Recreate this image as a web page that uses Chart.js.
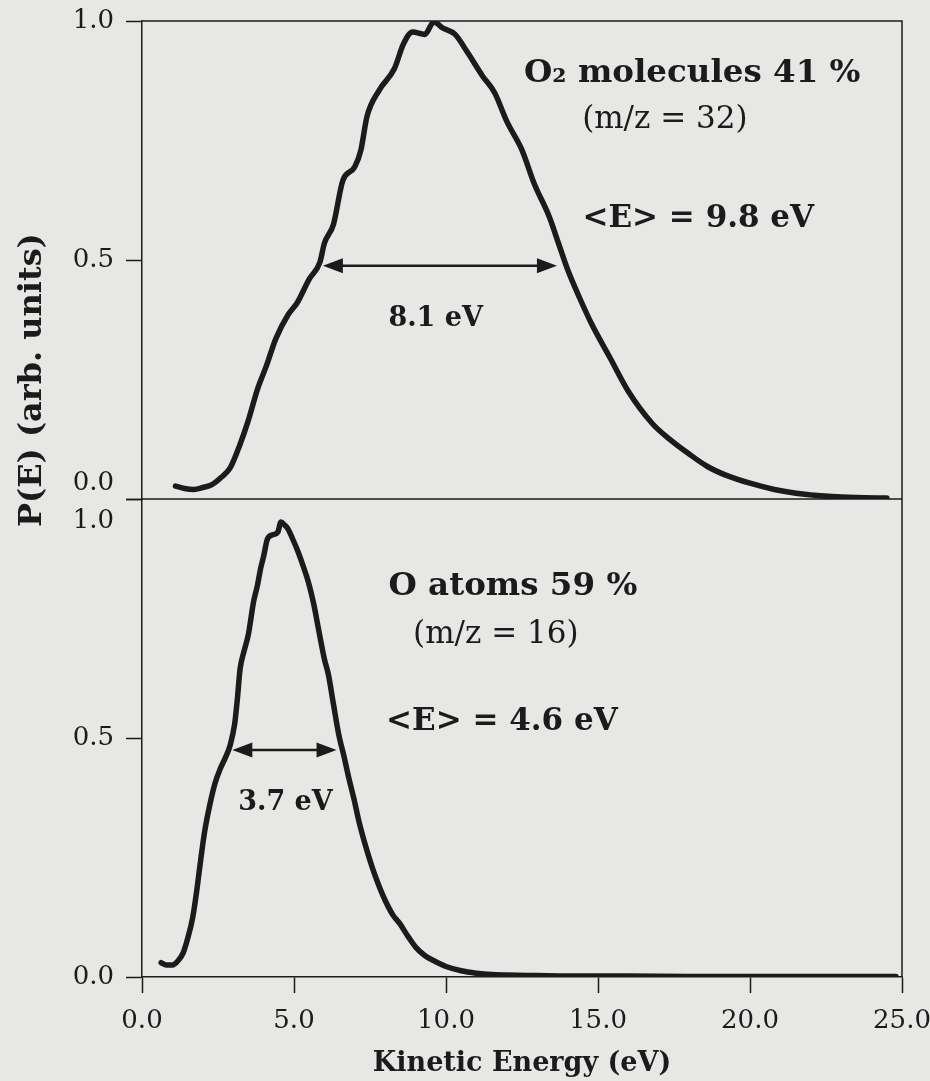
<!DOCTYPE html>
<html>
<head>
<meta charset="utf-8">
<title>P(E) kinetic energy distributions</title>
<script src="https://cdn.jsdelivr.net/npm/chart.js@4.4.1/dist/chart.umd.min.js"></script>
<style>
  html, body { margin: 0; padding: 0; background: #e7e7e5; }
  #chart { display: block; }
</style>
</head>
<body>
<canvas id="chart" width="930" height="1081"></canvas>
<script>
// upper panel: O2 molecules (m/z = 32)
const o2Energy = [1.1, 1.4, 1.7, 2.0, 2.3, 2.6, 2.9, 3.2, 3.5, 3.8, 4.1, 4.4, 4.8, 5.1, 5.5, 5.85,
    6.0, 6.3, 6.6, 7.0, 7.2, 7.4, 7.8, 8.3, 8.6, 8.9, 9.3, 9.6, 9.9, 10.3, 10.7, 11.2, 11.6,
    12.0, 12.5, 12.9, 13.4, 13.7, 14.0, 14.4, 14.8, 15.4, 16.0, 16.8, 17.3, 18.0, 18.6, 19.2,
    20.0, 20.8, 21.8, 22.7, 23.5, 24.5];
const o2Signal = [0.027, 0.022, 0.020, 0.024, 0.030, 0.045, 0.065, 0.110, 0.165, 0.230, 0.280,
    0.335, 0.385, 0.410, 0.460, 0.495, 0.535, 0.575, 0.665, 0.695, 0.730, 0.800, 0.855, 0.900,
    0.952, 0.977, 0.972, 0.998, 0.985, 0.972, 0.935, 0.885, 0.850, 0.790, 0.730, 0.660, 0.590,
    0.535, 0.480, 0.420, 0.365, 0.295, 0.225, 0.157, 0.128, 0.094, 0.068, 0.050, 0.033, 0.020,
    0.010, 0.005, 0.003, 0.002];

// lower panel: O atoms (m/z = 16)
const oEnergy = [0.63, 0.8, 1.0, 1.2, 1.35, 1.5, 1.67, 1.8, 1.9, 2.05, 2.23, 2.4, 2.57, 2.75,
    2.9, 3.05, 3.13, 3.23, 3.35, 3.5, 3.67, 3.8, 3.9, 4.0, 4.13, 4.3, 4.47, 4.57, 4.7, 4.8, 5.0,
    5.13, 5.3, 5.47, 5.65, 5.8, 6.0, 6.13, 6.3, 6.47, 6.65, 6.8, 7.0, 7.13, 7.35, 7.57, 7.8, 8.0,
    8.25, 8.47, 8.75, 9.0, 9.3, 9.57, 10.0, 10.5, 11.0, 11.5, 12.0, 13.0, 14.0, 16.0, 18.0, 20.0,
    22.0, 24.8];
const oSignal = [0.030, 0.025, 0.025, 0.035, 0.050, 0.080, 0.125, 0.180, 0.230, 0.300, 0.360,
    0.405, 0.435, 0.460, 0.485, 0.530, 0.577, 0.646, 0.680, 0.717, 0.785, 0.820, 0.854, 0.880,
    0.917, 0.925, 0.931, 0.952, 0.945, 0.9375, 0.910, 0.890, 0.860, 0.827, 0.780, 0.730, 0.665,
    0.633, 0.570, 0.508, 0.460, 0.417, 0.365, 0.327, 0.275, 0.230, 0.190, 0.160, 0.130, 0.1125,
    0.085, 0.0625, 0.045, 0.035, 0.022, 0.013, 0.008, 0.005, 0.004, 0.003, 0.002, 0.002, 0.001,
    0.001, 0.001, 0.001];

const FONT = '"DejaVu Serif", "Liberation Serif", serif';
const INK = '#1b1b1b';

// text put on the panels, in data coordinates
const notes = [
    { axis: 'yTop', x: 18.1, y: 0.89, text: 'O\u2082 molecules 41 %', bold: true, size: 32.5 },
    { axis: 'yTop', x: 17.2, y: 0.792, text: '(m/z = 32)', bold: false, size: 31 },
    { axis: 'yTop', x: 18.3, y: 0.585, text: '<E> = 9.8 eV', bold: true, size: 31 },
    { axis: 'yTop', x: 9.66, y: 0.377, text: '8.1 eV', bold: true, size: 27 },
    { axis: 'yBot', x: 12.2, y: 0.817, text: 'O atoms 59 %', bold: true, size: 32.5 },
    { axis: 'yBot', x: 11.64, y: 0.715, text: '(m/z = 16)', bold: false, size: 31 },
    { axis: 'yBot', x: 11.84, y: 0.533, text: '<E> = 4.6 eV', bold: true, size: 31 },
    { axis: 'yBot', x: 4.72, y: 0.365, text: '3.7 eV', bold: true, size: 27 },
];

// FWHM double arrows
const widthArrows = [
    { axis: 'yTop', from: 5.95, to: 13.65, y: 0.488 },
    { axis: 'yBot', from: 2.97, to: 6.4, y: 0.475 },
];

function toPoints(xs, ys) {
    return xs.map((x, i) => ({ x: x, y: ys[i] }));
}

function arrowHead(ctx, x, y, dir) {
    ctx.beginPath();
    ctx.moveTo(x, y);
    ctx.lineTo(x - dir * 20, y - 7.5);
    ctx.lineTo(x - dir * 20, y + 7.5);
    ctx.closePath();
    ctx.fill();
}

const figureExtras = {
    id: 'figureExtras',
    beforeDatasetsDraw(chart) {
        const { ctx, chartArea: a, scales } = chart;
        const mid = scales.yTop.getPixelForValue(0);
        ctx.save();
        ctx.strokeStyle = INK;
        ctx.lineWidth = 1.5;
        ctx.beginPath();
        ctx.moveTo(a.left, a.top);
        ctx.lineTo(a.right, a.top);
        ctx.lineTo(a.right, a.bottom);
        ctx.moveTo(a.left, mid);
        ctx.lineTo(a.right, mid);
        ctx.stroke();
        ctx.restore();
    },
    afterDatasetsDraw(chart) {
        const { ctx, scales } = chart;
        const x = scales.x;
        ctx.save();
        ctx.fillStyle = INK;
        ctx.strokeStyle = INK;

        widthArrows.forEach(w => {
            const y = scales[w.axis].getPixelForValue(w.y);
            const x0 = x.getPixelForValue(w.from);
            const x1 = x.getPixelForValue(w.to);
            ctx.lineWidth = 2.5;
            ctx.beginPath();
            ctx.moveTo(x0 + 10, y);
            ctx.lineTo(x1 - 10, y);
            ctx.stroke();
            arrowHead(ctx, x0, y, -1);
            arrowHead(ctx, x1, y, 1);
        });

        ctx.textAlign = 'center';
        ctx.textBaseline = 'middle';
        notes.forEach(n => {
            ctx.font = (n.bold ? 'bold ' : '') + n.size + 'px ' + FONT;
            ctx.fillText(n.text, x.getPixelForValue(n.x), scales[n.axis].getPixelForValue(n.y));
        });

        // y title spans both panels
        ctx.translate(33, 380);
        ctx.rotate(-Math.PI / 2);
        ctx.font = 'bold 32px ' + FONT;
        ctx.fillText('P(E) (arb. units)', 0, 0);
        ctx.restore();
    }
};

const tickFont = { family: FONT, size: 26 };
const gridOpts = { drawOnChartArea: false, tickLength: 16, tickColor: INK, tickWidth: 1.5 };

// fixed axis boxes so the frame lands where the figure has it
function fixY(s) {
    s.width = 142;
    s.paddingTop = 0;
    s.paddingBottom = 0;
}
function fixX(s) {
    s.height = 104;
    s.paddingLeft = 0;
    s.paddingRight = 0;
}

new Chart(document.getElementById('chart'), {
    type: 'line',
    data: {
        datasets: [
            {
                label: 'O2 molecules',
                data: toPoints(o2Energy, o2Signal),
                yAxisID: 'yTop',
            },
            {
                label: 'O atoms',
                data: toPoints(oEnergy, oSignal),
                yAxisID: 'yBot',
            }
        ]
    },
    options: {
        responsive: false,
        animation: false,
        layout: { padding: { top: 21, right: 28, left: 0, bottom: 0 } },
        elements: {
            line: {
                borderColor: INK,
                borderWidth: 5.5,
                borderCapStyle: 'round',
                borderJoinStyle: 'round',
                cubicInterpolationMode: 'monotone',
                fill: false,
            },
            point: { radius: 0 },
        },
        plugins: {
            legend: { display: false },
            tooltip: { enabled: false },
        },
        scales: {
            x: {
                type: 'linear',
                min: 0,
                max: 25,
                ticks: {
                    stepSize: 5,
                    maxRotation: 0,
                    padding: 13,
                    color: INK,
                    font: tickFont,
                    callback: v => v.toFixed(1),
                },
                grid: gridOpts,
                border: { color: INK, width: 1.5 },
                title: {
                    display: true,
                    text: 'Kinetic Energy (eV)',
                    color: INK,
                    font: { family: FONT, size: 27, weight: 'bold' },
                    padding: { top: 0, bottom: 1 },
                },
                afterFit: fixX,
            },
            yTop: {
                type: 'linear',
                position: 'left',
                stack: 'panels',
                stackWeight: 1,
                weight: 2,
                min: 0,
                max: 1,
                ticks: {
                    stepSize: 0.5,
                    padding: 12,
                    color: INK,
                    font: tickFont,
                    // the 0.0 label sits above the shared line
                    callback: v => v === 0 ? ['0.0', ''] : v.toFixed(1),
                },
                grid: gridOpts,
                border: { color: INK, width: 1.5 },
                afterFit: fixY,
            },
            yBot: {
                type: 'linear',
                position: 'left',
                stack: 'panels',
                stackWeight: 1,
                weight: 1,
                min: 0,
                max: 1,
                ticks: {
                    stepSize: 0.5,
                    padding: 12,
                    color: INK,
                    font: ctx => ({
                        family: FONT,
                        size: 26,
                        lineHeight: ctx.tick && ctx.tick.value === 1 ? 1.7 : 1.2,
                    }),
                    // and the 1.0 label below it
                    callback: v => v === 1 ? ['', '1.0'] : v.toFixed(1),
                },
                grid: gridOpts,
                border: { color: INK, width: 1.5 },
                afterFit: fixY,
            },
        }
    },
    plugins: [figureExtras]
});
</script>
</body>
</html>
